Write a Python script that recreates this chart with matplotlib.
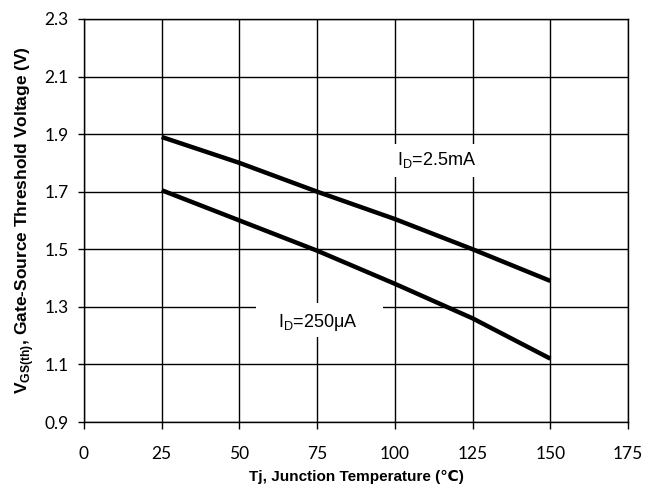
import matplotlib
matplotlib.use("Agg")
import matplotlib.pyplot as plt
from matplotlib.patches import Rectangle

# data
tj = [25, 50, 75, 100, 125, 150]
vth_2p5mA = [1.89, 1.80, 1.70, 1.605, 1.50, 1.39]
vth_250uA = [1.705, 1.60, 1.495, 1.38, 1.26, 1.12]

xticks = [0, 25, 50, 75, 100, 125, 150, 175]
yticks = [0.9, 1.1, 1.3, 1.5, 1.7, 1.9, 2.1, 2.3]

plt.rcParams['font.family'] = ['Lato', 'DejaVu Sans']
plt.rcParams['mathtext.fontset'] = 'custom'
plt.rcParams['mathtext.rm'] = 'Liberation Sans'
plt.rcParams['mathtext.bf'] = 'Liberation Sans:bold'

fig = plt.figure(figsize=(6.54, 4.88), dpi=100)
ax = fig.add_axes([0.1284, 0.1352, 0.832, 0.826])

ax.plot(tj, vth_2p5mA, color='black', lw=3.2, solid_capstyle='butt', zorder=3)
ax.plot(tj, vth_250uA, color='black', lw=3.2, solid_capstyle='butt', zorder=3)

ax.set_xlim(0, 175)
ax.set_ylim(0.9, 2.3)
ax.set_xticks(xticks)
ax.set_yticks(yticks)
ax.set_yticklabels(['%.1f' % v for v in yticks])
ax.grid(True, color='black', lw=1.0)
ax.set_axisbelow(True)
for s in ax.spines.values():
    s.set_linewidth(1.0)
ax.tick_params(axis='y', direction='out', length=4, width=1.0, labelsize=12.5, pad=7)
ax.tick_params(axis='x', direction='out', length=5, width=1.0, labelsize=12.5, pad=12)

ax.set_xlabel('Tj, Junction Temperature (\u2103)', fontsize=11, fontweight='bold',
              family=['Liberation Sans', 'DejaVu Sans'], labelpad=6)
ax.set_ylabel(r'V$_{\mathbf{GS(th)}}$, Gate-Source Threshold Voltage (V)', fontsize=12.5,
              fontweight='bold', family=['Liberation Sans', 'DejaVu Sans'], labelpad=6)

# white patches behind the curve labels (hide the grid there)
ax.add_patch(Rectangle((94, 1.751), 40, 0.115, facecolor='white', edgecolor='none', zorder=2.5))
ax.add_patch(Rectangle((55.4, 1.195), 40.8, 0.118, facecolor='white', edgecolor='none', zorder=2.5))

ax.text(113.3, 1.81, 'I$_{\\mathrm{D}}$=2.5mA', fontsize=13, ha='center', va='center',
        family=['Liberation Sans', 'DejaVu Sans'], zorder=4)
ax.text(75.3, 1.247, 'I$_{\\mathrm{D}}$=250\u03bcA', fontsize=13, ha='center', va='center',
        family=['Liberation Sans', 'DejaVu Sans'], zorder=4)

fig.savefig('out.png', dpi=100)
